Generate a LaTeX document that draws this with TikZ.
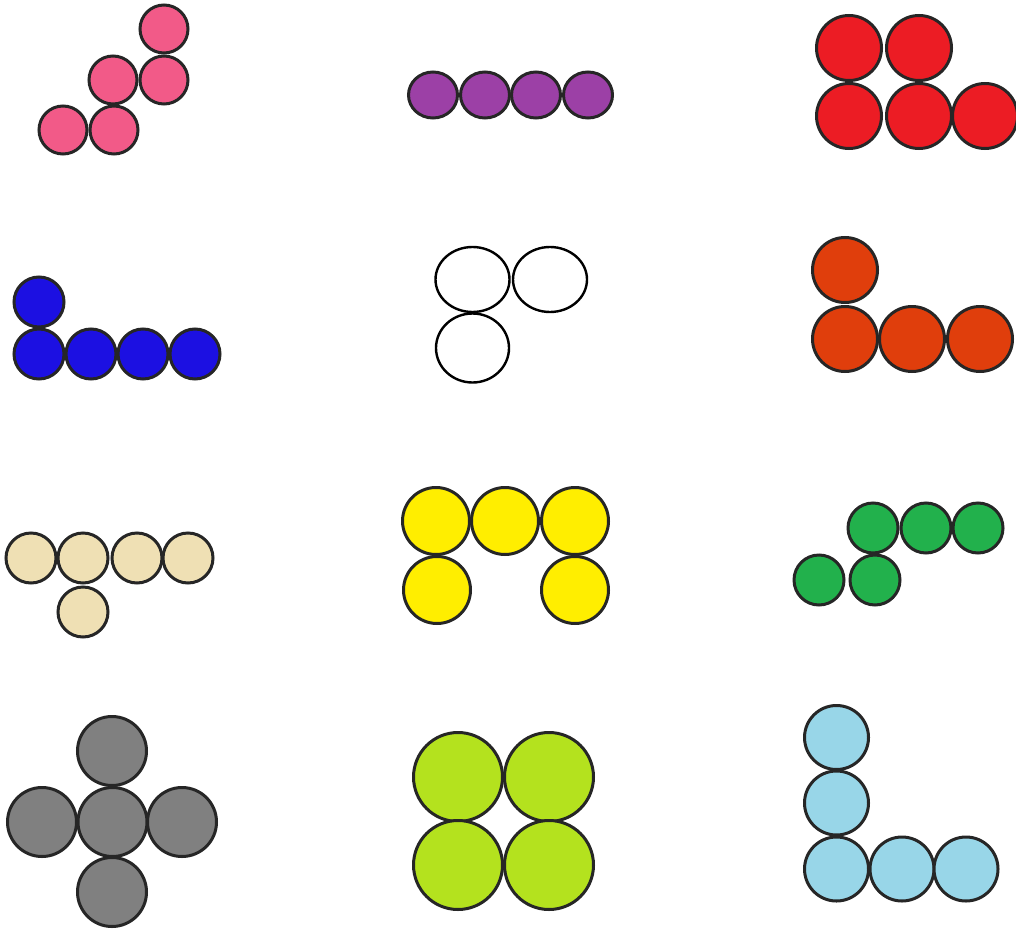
\documentclass[tikz,border=0pt]{standalone}
\usetikzlibrary{calc}
\definecolor{cpink}{HTML}{F25A88}
\definecolor{cpurple}{HTML}{9C40A6}
\definecolor{cred}{HTML}{EC1C24}
\definecolor{cblue}{HTML}{1C10E2}
\definecolor{corange}{HTML}{E03E0C}
\definecolor{cbeige}{HTML}{EFE0B4}
\definecolor{cyellow}{HTML}{FFEE00}
\definecolor{cgreen}{HTML}{22B14C}
\definecolor{cgray}{HTML}{808080}
\definecolor{clime}{HTML}{B4E21E}
\definecolor{clblue}{HTML}{98D6E8}
\tikzset{ball/.style={draw=black!85,line width=3pt}}
\begin{document}
\begin{tikzpicture}[x=1pt,y=-1pt]
\useasboundingbox (0,0) rectangle (1016,928);
% pink
\foreach \p in {(164,29),(113,80),(164,80),(63,130),(114,130)}
  \filldraw[ball,fill=cpink] \p circle (24);
% purple
\foreach \p in {(433,95),(485,95),(536,95),(588,95)}
  \filldraw[ball,fill=cpurple] \p ellipse (24.5 and 23);
% red
\foreach \p in {(849,48),(919,48),(849,116),(919,116),(985,116)}
  \filldraw[ball,fill=cred] \p circle (32.5);
% blue
\foreach \p in {(39,302),(39,354),(91,354),(143,354),(195,354)}
  \filldraw[ball,fill=cblue] \p circle (25);
% white
\filldraw[draw=black,line width=2.4pt,fill=white] (472.5,279.5) ellipse (37 and 32.5);
\filldraw[draw=black,line width=2.4pt,fill=white] (550,279.5) ellipse (37 and 32.5);
\filldraw[draw=black,line width=2.4pt,fill=white] (472.5,348) ellipse (36.5 and 34.5);
% orange
\foreach \p in {(845,270),(845,339),(912,339),(980,339)}
  \filldraw[ball,fill=corange] \p circle (32.5);
% beige
\foreach \p in {(31,558),(83,558),(137,558),(188,558),(83,612)}
  \filldraw[ball,fill=cbeige] \p circle (25);
% yellow
\foreach \p in {(436,521),(505,521),(575,521),(437,590),(575,590)}
  \filldraw[ball,fill=cyellow] \p circle (33.5);
% green
\foreach \p in {(873,528),(926,528),(978,528),(819,580),(875,580)}
  \filldraw[ball,fill=cgreen] \p circle (25);
% gray
\foreach \p in {(112,751),(42,822),(112.5,822),(182,822),(112,892)}
  \filldraw[ball,fill=cgray] \p circle (34.5);
% lime
\foreach \p in {(458,777),(549,777),(458,865),(549,865)}
  \filldraw[ball,fill=clime] \p circle (44.5);
% light blue
\foreach \p in {(836.5,737.5),(836.5,803),(836.5,869),(902,869),(966,869)}
  \filldraw[ball,fill=clblue] \p circle (32);
\end{tikzpicture}
\end{document}
